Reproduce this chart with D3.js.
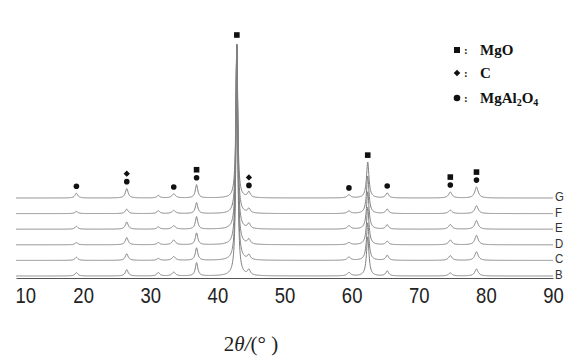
<!DOCTYPE html>
<html>
<head>
<meta charset="utf-8">
<script src="https://cdn.jsdelivr.net/npm/d3@7"></script>
<style>
  body { margin: 0; background: #fff; }
  svg { display: block; }
</style>
</head>
<body>
<svg width="587" height="362"></svg>
<script>
// peak positions (2theta, deg)
const peakPos   = [19.0, 26.5, 31.2, 33.5, 36.9, 42.9, 44.7, 59.6, 62.4, 65.3, 74.7, 78.6];
const peakWidth = [0.25, 0.25, 0.25, 0.3, 0.22, 0.16, 0.25, 0.3, 0.22, 0.25, 0.3, 0.3];

// peak heights per sample (counts), same order as peakPos
const samples = ["B", "C", "D", "E", "F", "G"];
const hB = [22, 40, 22, 24, 85, 1500, 34, 22, 250, 32, 20, 45];
const hC = [20, 42, 12, 24, 80, 1400, 30, 20, 240, 32, 30, 55];
const hD = [14, 46, 14, 30, 75, 1300, 30, 14, 240, 22, 30, 60];
const hE = [18, 46, 14, 22, 80, 1200, 32, 22, 240, 28, 30, 55];
const hF = [14, 28, 18, 20, 70, 1100, 28, 16, 240, 28, 22, 50];
const hG = [30, 60, 16, 26, 85, 1000, 36, 20, 230, 32, 38, 70];
const heights = [hB, hC, hD, hE, hF, hG];
const offset = 100; // vertical stacking between samples

// phase markers
const legendNames = ["MgO", "C", "MgAl2O4"];
const markSquare  = [36.9, 42.9, 62.4, 74.7, 78.6];
const markDiamond = [26.5, 44.7];
const markCircle  = [19.0, 26.5, 33.5, 36.9, 44.7, 59.6, 65.3, 74.7, 78.6];

const xTicks = [10, 20, 30, 40, 50, 60, 70, 80, 90];

const svg = d3.select("svg");
const x = d3.scaleLinear().domain([10, 90]).range([16, 553]);
const y = d3.scaleLinear().domain([0, 1500]).range([276, 42]);
const sansFont = "'Liberation Sans Narrow', 'Liberation Sans', Arial, sans-serif";

// sample grid along 2theta
const grid = d3.range(10, 90.001, 0.04);
function profile(h) {
  return grid.map(t => {
    let v = 0;
    peakPos.forEach((p, i) => {
      const w = peakWidth[i];
      v += h[i] * w * w / ((t - p) * (t - p) + w * w);
    });
    return [t, v];
  });
}

const line = d3.line().x(d => x(d[0])).y(d => d[1]);

// axis line (no tick marks, condensed labels)
const axis = d3.axisBottom(x).tickValues(xTicks).tickSize(0).tickPadding(9).tickFormat(d3.format("d"));
const gx = svg.append("g").attr("transform", "translate(0,278)").call(axis);
gx.select(".domain").attr("stroke", "#555").attr("stroke-width", 1.2);
gx.selectAll("text")
  .attr("font-family", sansFont)
  .attr("font-size", 22)
  .attr("fill", "#222")
  .attr("transform", "scale(0.84,1)");
gx.selectAll(".tick").filter(d => d === 10).select("text").attr("dx", 11);

// traces
heights.forEach((h, k) => {
  const pts = profile(h).map(([t, v]) => [t, y(v + k * offset)]);
  svg.append("path")
    .attr("d", line(pts))
    .attr("fill", "none")
    .attr("stroke", "#808080")
    .attr("stroke-width", 1);
  svg.append("text")
    .attr("transform", `translate(555,${y(k * offset) + 3}) scale(0.85,1)`)
    .attr("font-family", sansFont)
    .attr("font-size", 13.5)
    .attr("fill", "#333")
    .text(samples[k]);
});

// marker positions: just above the top trace (G) peaks
const topIdx = heights.length - 1;
function peakTop(p) {
  const i = peakPos.indexOf(p);
  return y(hG[i] + topIdx * offset);
}
const diamond = d3.symbol(d3.symbolSquare, 20)();
const mk = svg.append("g").attr("fill", "#111");
markCircle.forEach(p => {
  mk.append("circle").attr("cx", x(p)).attr("cy", peakTop(p) - 7).attr("r", 2.8);
});
markSquare.forEach(p => {
  const both = markCircle.includes(p);
  const cy = peakTop(p) - (both ? 15 : 7);
  mk.append("rect").attr("x", x(p) - 2.8).attr("y", cy - 2.8).attr("width", 5.6).attr("height", 5.6);
});
markDiamond.forEach(p => {
  const cy = peakTop(p) - 15;
  mk.append("path")
    .attr("d", diamond)
    .attr("transform", `translate(${x(p)},${cy}) rotate(45)`);
});

// legend
const lg = svg.append("g").attr("font-family", "'Liberation Serif', 'Times New Roman', serif")
  .attr("font-weight", "bold").attr("font-size", 15).attr("fill", "#111");
const ly = [50, 73, 98];
lg.append("rect").attr("x", 454).attr("y", ly[0] - 3).attr("width", 6).attr("height", 6);
lg.append("path").attr("d", d3.symbol(d3.symbolSquare, 22)()).attr("transform", `translate(457,${ly[1]}) rotate(45)`);
lg.append("circle").attr("cx", 457).attr("cy", ly[2]).attr("r", 3.3);
ly.forEach(v => {
  lg.append("text").attr("x", 464).attr("y", v + 4).attr("font-size", 11).text(":");
});
lg.append("text").attr("x", 480).attr("y", ly[0] + 5).text(legendNames[0]);
lg.append("text").attr("x", 480).attr("y", ly[1] + 5).text(legendNames[1]);
const t3 = lg.append("text").attr("x", 480).attr("y", ly[2] + 5);
t3.append("tspan").text("MgAl");
t3.append("tspan").attr("font-size", 10).attr("dy", 3).text("2");
t3.append("tspan").attr("dy", -3).text("O");
t3.append("tspan").attr("font-size", 10).attr("dy", 3).text("4");

// x axis title
const tt = svg.append("text").attr("x", 251).attr("y", 351).attr("text-anchor", "middle")
  .attr("font-family", "'Liberation Serif', 'Times New Roman', serif").attr("font-size", 21).attr("fill", "#222");
tt.append("tspan").text("2");
tt.append("tspan").attr("font-style", "italic").text("θ/");
tt.append("tspan").text("(° )");
</script>
</body>
</html>
